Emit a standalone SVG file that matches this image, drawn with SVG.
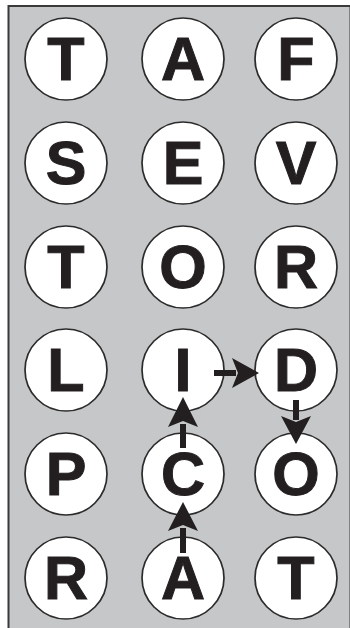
<svg xmlns="http://www.w3.org/2000/svg" width="350" height="628" viewBox="0 0 350 628">
<style>
.n circle{fill:#ffffff;stroke:#2b2b2b;stroke-width:1.7}
.n text{font-family:"Liberation Sans",Arial,sans-serif;font-weight:bold;font-size:61px;fill:#231f20;stroke:#231f20;stroke-width:1;text-anchor:middle}
.a{fill:#231f20}
</style>
<rect x="0" y="0" width="350" height="628" fill="#ffffff"/>
<rect x="8.5" y="6" width="342" height="623" fill="#c6c7c9" stroke="#3a3a3a" stroke-width="2"/>
<g id="n-r1c1" class="n"><circle cx="66" cy="59" r="41"/><text x="66" y="80">T</text></g>
<g id="n-r1c2" class="n"><circle cx="183" cy="59" r="41"/><text x="183" y="80">A</text></g>
<g id="n-r1c3" class="n"><circle cx="296" cy="59" r="41"/><text x="296" y="80">F</text></g>
<g id="n-r2c1" class="n"><circle cx="66" cy="163" r="41"/><text x="66" y="184">S</text></g>
<g id="n-r2c2" class="n"><circle cx="183" cy="163" r="41"/><text x="183" y="184">E</text></g>
<g id="n-r2c3" class="n"><circle cx="296" cy="163" r="41"/><text x="296" y="184">V</text></g>
<g id="n-r3c1" class="n"><circle cx="66" cy="267" r="41"/><text x="66" y="288">T</text></g>
<g id="n-r3c2" class="n"><circle cx="183" cy="267" r="41"/><text x="183" y="288">O</text></g>
<g id="n-r3c3" class="n"><circle cx="296" cy="267" r="41"/><text x="296" y="288">R</text></g>
<g id="n-r4c1" class="n"><circle cx="66" cy="370" r="41"/><text x="66" y="391">L</text></g>
<g id="n-r4c2" class="n"><circle cx="183" cy="370" r="41"/><text x="183" y="391">I</text></g>
<g id="n-r4c3" class="n"><circle cx="296" cy="370" r="41"/><text x="296" y="391">D</text></g>
<g id="n-r5c1" class="n"><circle cx="66" cy="474" r="41"/><text x="66" y="495">P</text></g>
<g id="n-r5c2" class="n"><circle cx="183" cy="474" r="41"/><text x="183" y="495">C</text></g>
<g id="n-r5c3" class="n"><circle cx="296" cy="474" r="41"/><text x="296" y="495">O</text></g>
<g id="n-r6c1" class="n"><circle cx="66" cy="578" r="41"/><text x="66" y="599">R</text></g>
<g id="n-r6c2" class="n"><circle cx="183" cy="578" r="41"/><text x="183" y="599">A</text></g>
<g id="n-r6c3" class="n"><circle cx="296" cy="578" r="41"/><text x="296" y="599">T</text></g>
<g id="connectors">
<path class="a" d="M214 370 H236 V376 H214 Z M232 358 L259 373 L232 388 L238 373 Z"/>
<path class="a" d="M293 400 V420 H299 V400 Z M281 416 L296 444 L311 416 L296 422 Z"/>
<path class="a" d="M180 448 V424 H186 V448 Z M168 427 L183 397 L198 427 L183 421 Z"/>
<path class="a" d="M180 553 V528 H186 V553 Z M168 531 L183 502 L198 531 L183 525 Z"/>
</g>
</svg>
